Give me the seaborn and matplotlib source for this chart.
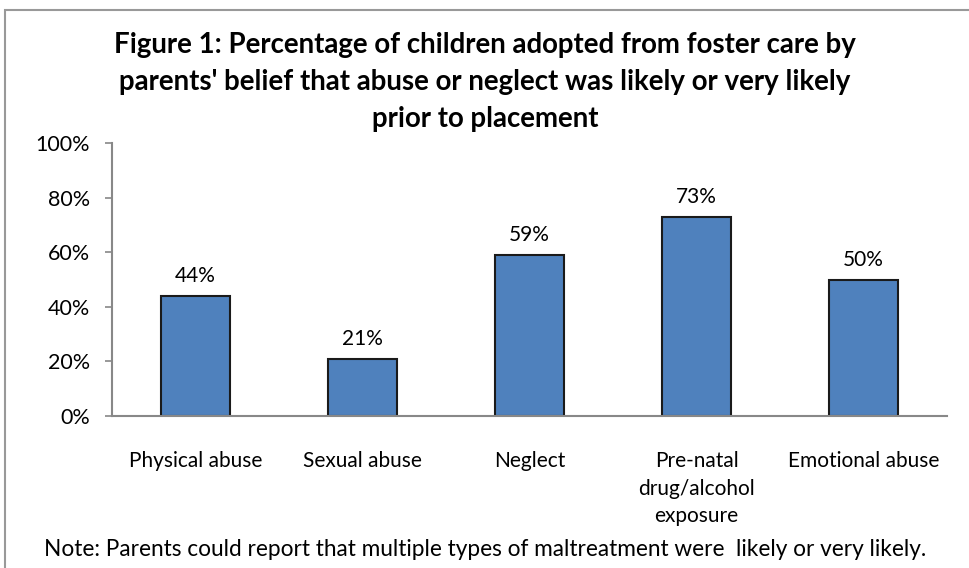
import matplotlib.pyplot as plt
import matplotlib.ticker as mtick
from matplotlib.patches import Rectangle
import seaborn as sns
import pandas as pd

categories = ['Physical abuse', 'Sexual abuse', 'Neglect',
              'Pre-natal\ndrug/alcohol\nexposure', 'Emotional abuse']
percents = [44, 21, 59, 73, 50]

sns.set_style('white')
plt.rcParams.update({'font.family': ['Lato', 'DejaVu Sans'],
                     'font.size': 15,
                     'text.color': '#000000',
                     'axes.labelcolor': '#000000',
                     'xtick.color': '#000000',
                     'ytick.color': '#000000'})

df = pd.DataFrame({'category': categories, 'pct': percents})

fig = plt.figure(figsize=(9.7, 5.68), dpi=100)
ax = fig.add_axes([0.1155, 0.2676, 0.861, 0.4806])

sns.barplot(ax=ax, data=df, x='category', y='pct', color='#4F81BD',
            saturation=1, width=0.41, edgecolor='#1a1a1a', linewidth=1.5)

for i, v in enumerate(percents):
    ax.text(i, v + 3.5, f'{v}%', ha='center', va='bottom', fontsize=15)

ax.set_ylim(0, 100)
ax.set_xlim(-0.5, 4.5)
ax.set_yticks(range(0, 101, 20))
ax.yaxis.set_major_formatter(mtick.PercentFormatter(decimals=0))
ax.set(xlabel='', ylabel='')
ax.tick_params(axis='y', left=True, length=5, width=1.2, color='#888888', labelsize=15.5, pad=11)
ax.tick_params(axis='x', bottom=False, labelsize=15, pad=22)
for lab in ax.get_xticklabels():
    lab.set_linespacing(1.45)
    lab.set_va('top')
sns.despine(ax=ax)
for s in ['left', 'bottom']:
    ax.spines[s].set_color('#888888')
    ax.spines[s].set_linewidth(1.5)

fig.text(0.5, 0.943, "Figure 1: Percentage of children adopted from foster care by\n"
         "parents' belief that abuse or neglect was likely or very likely\n"
         "prior to placement", ha='center', va='top', fontsize=19.9,
         fontweight='bold', linespacing=1.52)

fig.text(0.5, 0.033, 'Note: Parents could report that multiple types of maltreatment were  likely or very likely.',
         ha='center', va='center', fontsize=16.3)

fig.patches.append(Rectangle((5 / 970, -0.05), 1.1, 1 - 10 / 568 + 0.05,
                             transform=fig.transFigure, fill=False,
                             edgecolor='#999999', linewidth=1.5))

fig.savefig('out.png', dpi=100)
